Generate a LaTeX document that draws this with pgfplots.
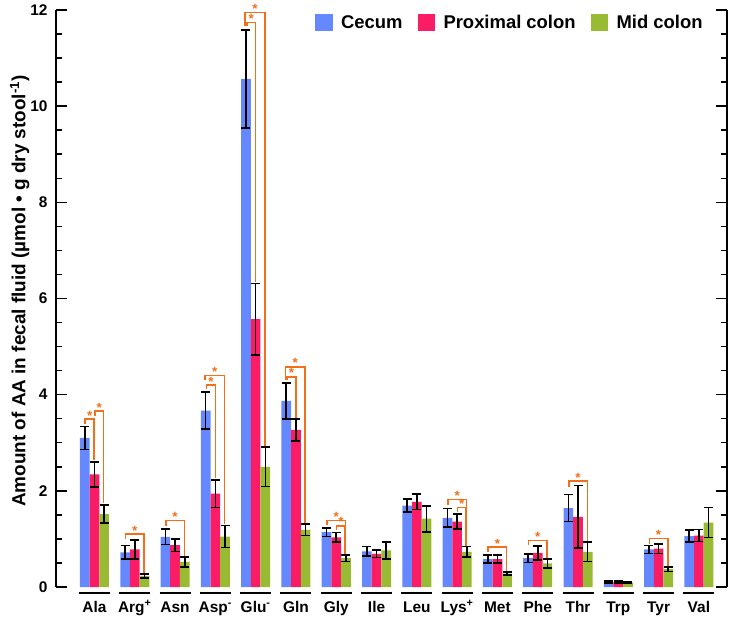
\documentclass[border=0pt]{standalone}
\usepackage{pgfplots}
\pgfplotsset{compat=1.18}
\usepackage{pgfplotstable}
\usepackage{fontspec}
\setmainfont{Liberation Sans}
\definecolor{cblue}{RGB}{102,136,255}
\definecolor{cpink}{RGB}{250,28,100}
\definecolor{cgreen}{RGB}{153,187,51}
\definecolor{sigc}{RGB}{242,112,25}

\pgfplotstableread{
x  c     ce    p     pe    m     me
0  3.10  0.24  2.34  0.26  1.52  0.19
1  0.72  0.14  0.78  0.20  0.23  0.04
2  1.04  0.16  0.87  0.13  0.52  0.10
3  3.67  0.39  1.94  0.29  1.05  0.23
4  10.57 1.02  5.57  0.74  2.50  0.41
5  3.87  0.37  3.27  0.23  1.19  0.12
6  1.14  0.09  1.03  0.10  0.60  0.07
7  0.74  0.10  0.69  0.08  0.76  0.18
8  1.69  0.135 1.77  0.16  1.42  0.27
9  1.44  0.19  1.36  0.16  0.73  0.11
10 0.58  0.08  0.58  0.08  0.28  0.03
11 0.60  0.09  0.71  0.145 0.49  0.09
12 1.64  0.28  1.46  0.65  0.73  0.20
13 0.10  0.02  0.10  0.02  0.09  0.02
14 0.78  0.08  0.80  0.10  0.37  0.045
15 1.06  0.125 1.07  0.125 1.34  0.31
}\datatable

% bracket: x1 x2 height yleft yright
\newcommand{\sig}[5]{%
  \draw[draw=sigc, line width=1.5bp] (axis cs:#1,#4) -- (axis cs:#1,#3) -- (axis cs:#2,#3) -- (axis cs:#2,#5);
  \node[text=sigc, font=\fontsize{13.5}{15}\selectfont\bfseries, anchor=base, inner sep=0pt, yshift=-1bp] at (axis cs:{(#1+#2)/2},#3) {*};
}

\begin{document}
\begin{tikzpicture}
\begin{axis}[
  scale only axis, width=670.7bp, height=577bp,
  ymin=0, ymax=12, xmin=-0.955, xmax=15.69,
  ybar=0pt, bar width=0.24,
  clip=false,
  separate axis lines,
  axis line style={line width=2bp, black},
  x axis line style={draw=none},
  ytick={0,2,...,12}, minor y tick num=3,
  tick align=inside,
  major tick length=11bp, minor tick length=6bp,
  tick style={line width=1.5bp, black},
  xtick={0,...,15},
  xtick style={draw=none},
  xticklabels={Ala, Arg\textsuperscript{+}, Asn, Asp\textsuperscript{-}, Glu\textsuperscript{-}, Gln, Gly, Ile, Leu, Lys\textsuperscript{+}, Met, Phe, Thr, Trp, Tyr, Val},
  xticklabel style={font=\fontsize{15.5}{18}\selectfont\bfseries, text height=11bp, yshift=-10.5bp},
  yticklabel style={font=\fontsize{15.5}{18}\selectfont\bfseries, xshift=-5bp},
  /pgf/number format/assume math mode=true,
  ylabel={Amount of AA in fecal fluid (µmol • g dry stool\textsuperscript{-1})},
  ylabel style={font=\fontsize{19}{22}\selectfont\bfseries, at={(axis description cs:-0.054,0.513)}, anchor=center, rotate=0},
  legend columns=3,
  legend style={draw=none, fill=none, inner sep=0pt, font=\fontsize{18.5}{22}\selectfont\bfseries,
    at={(axis description cs:0.386,0.978)}, anchor=west,
    /tikz/every even column/.append style={column sep=13bp}},
  legend image code/.code={\fill[#1] (0bp,-8.75bp) rectangle (17.5bp,8.75bp); \path (24bp,0bp);},
]
\addplot[fill=cblue, draw=none, error bars/.cd, y dir=both, y explicit,
  error bar style={draw=black, line width=1.6bp},
  error mark options={draw=black, line width=1.6bp, mark size=4.5bp, rotate=90}]
  table[x=x, y=c, y error=ce]{\datatable};
\addplot[fill=cpink, draw=none, error bars/.cd, y dir=both, y explicit,
  error bar style={draw=black, line width=1.6bp},
  error mark options={draw=black, line width=1.6bp, mark size=4.5bp, rotate=90}]
  table[x=x, y=p, y error=pe]{\datatable};
\addplot[fill=cgreen, draw=none, error bars/.cd, y dir=both, y explicit,
  error bar style={draw=black, line width=1.6bp},
  error mark options={draw=black, line width=1.6bp, mark size=4.5bp, rotate=90}]
  table[x=x, y=m, y error=me]{\datatable};
\legend{Cecum, Proximal colon, Mid colon}

\pgfplotsinvokeforeach{0,...,15}{
  \draw[line width=1.5bp] (axis cs:{#1-0.385},-0.12) -- (axis cs:{#1+0.385},-0.12);
}

% Ala
\sig{-0.23}{-0.01}{3.49}{3.39}{2.64}
\sig{0.01}{0.23}{3.66}{3.56}{1.75}
% Arg
\sig{0.77}{1.23}{1.10}{0.99}{0.29}
% Asn
\sig{1.77}{2.23}{1.38}{1.27}{0.64}
% Asp
\sig{2.74}{3.23}{4.40}{4.30}{1.31}
\sig{2.78}{3.00}{4.20}{4.12}{2.26}
% Glu
\sig{3.74}{4.23}{11.95}{11.66}{2.94}
\sig{3.78}{4.00}{11.74}{11.66}{6.35}
% Gln
\sig{4.74}{5.23}{4.58}{4.31}{1.34}
\sig{4.78}{5.00}{4.37}{4.31}{3.52}
% Gly
\sig{5.77}{6.23}{1.38}{1.28}{0.69}
\sig{6.01}{6.22}{1.27}{1.18}{0.69}
% Lys
\sig{8.77}{9.23}{1.82}{1.70}{0.86}
\sig{9.01}{9.22}{1.65}{1.55}{0.86}
% Met
\sig{9.77}{10.23}{0.83}{0.73}{0.33}
% Phe
\sig{10.77}{11.23}{0.97}{0.87}{0.60}
% Thr
\sig{11.77}{12.23}{2.20}{2.08}{0.95}
% Tyr
\sig{13.77}{14.23}{1.01}{0.90}{0.43}

\coordinate (SW) at (rel axis cs:0,0);
\coordinate (NE) at (rel axis cs:1,1);
\end{axis}
\pgfresetboundingbox
\path[use as bounding box] ([shift={(-56bp,-33bp)}]SW) rectangle ([shift={(9.3bp,10bp)}]NE);
\end{tikzpicture}
\end{document}
